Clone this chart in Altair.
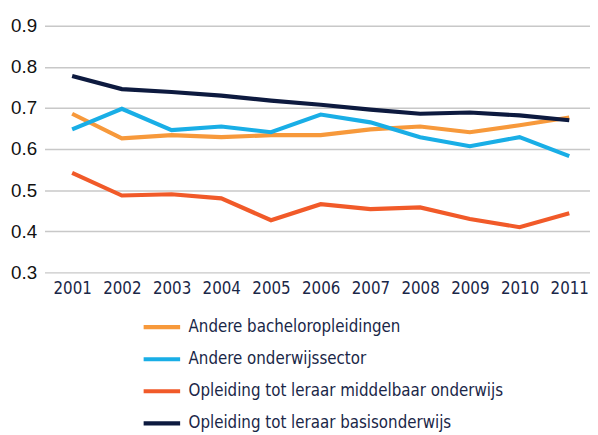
import altair as alt
import pandas as pd

years = [2001, 2002, 2003, 2004, 2005, 2006, 2007, 2008, 2009, 2010, 2011]
series_names = [
    "Andere bacheloropleidingen",
    "Andere onderwijssector",
    "Opleiding tot leraar middelbaar onderwijs",
    "Opleiding tot leraar basisonderwijs",
]
bachelor = [0.686, 0.626, 0.634, 0.629, 0.634, 0.634, 0.648, 0.655, 0.641, 0.658, 0.677]
onderwijssector = [0.648, 0.698, 0.646, 0.655, 0.641, 0.684, 0.665, 0.629, 0.607, 0.629, 0.583]
middelbaar = [0.542, 0.487, 0.490, 0.480, 0.427, 0.466, 0.454, 0.458, 0.430, 0.410, 0.444]
basis = [0.778, 0.746, 0.739, 0.730, 0.718, 0.708, 0.696, 0.686, 0.689, 0.682, 0.670]
colors = ["#F7993B", "#19AEE6", "#F15A29", "#0D1A3F"]
y_ticks = [0.3, 0.4, 0.5, 0.6, 0.7, 0.8, 0.9]

rows = []
for name, vals in zip(series_names, [bachelor, onderwijssector, middelbaar, basis]):
    for i, (yr, v) in enumerate(zip(years, vals)):
        rows.append({"jaar": yr, "waarde": v, "reeks": name, "order": series_names.index(name)})
df = pd.DataFrame(rows)

narrow = "DejaVu Sans Condensed, sans-serif"
navy = "#1A2748"

chart = alt.Chart(df).mark_line(strokeWidth=4.2, strokeCap="butt", strokeJoin="miter").encode(
    x=alt.X("jaar:Q",
            scale=alt.Scale(domain=[2000.444, 2011.417], nice=False, zero=False),
            axis=alt.Axis(values=years, format="d", title=None, grid=False, domain=False, ticks=False,
                          labelFont=narrow, labelFontSize=17, labelColor=navy, labelPadding=8,
                          labelFlush=False)),
    y=alt.Y("waarde:Q",
            scale=alt.Scale(domain=[0.3, 0.9], nice=False, zero=False),
            axis=alt.Axis(values=y_ticks, format=".1f", title=None, grid=True, domain=False, ticks=False,
                          gridColor="#C8C8C8", gridWidth=1.5,
                          labelFont="Liberation Sans", labelFontSize=19, labelColor="#111111",
                          labelPadding=8)),
    color=alt.Color("reeks:N",
                    scale=alt.Scale(domain=series_names, range=colors),
                    legend=alt.Legend(title=None, orient="none", legendX=98, legendY=295.5,
                                      symbolType="stroke", symbolSize=1369, symbolStrokeWidth=4.2,
                                      clipHeight=20,
                                      labelFont=narrow, labelFontSize=17, labelColor=navy,
                                      labelOffset=6, rowPadding=12.5, labelLimit=400)),
    order=alt.Order("order:Q"),
).properties(
    width=553, height=250,
    autosize=alt.AutoSizeParams(type="none"),
    padding={"left": 37, "top": 15, "right": 0, "bottom": 175},
).configure_view(stroke=None)

chart.save("out.html", embed_options={"renderer": "svg", "actions": False})
